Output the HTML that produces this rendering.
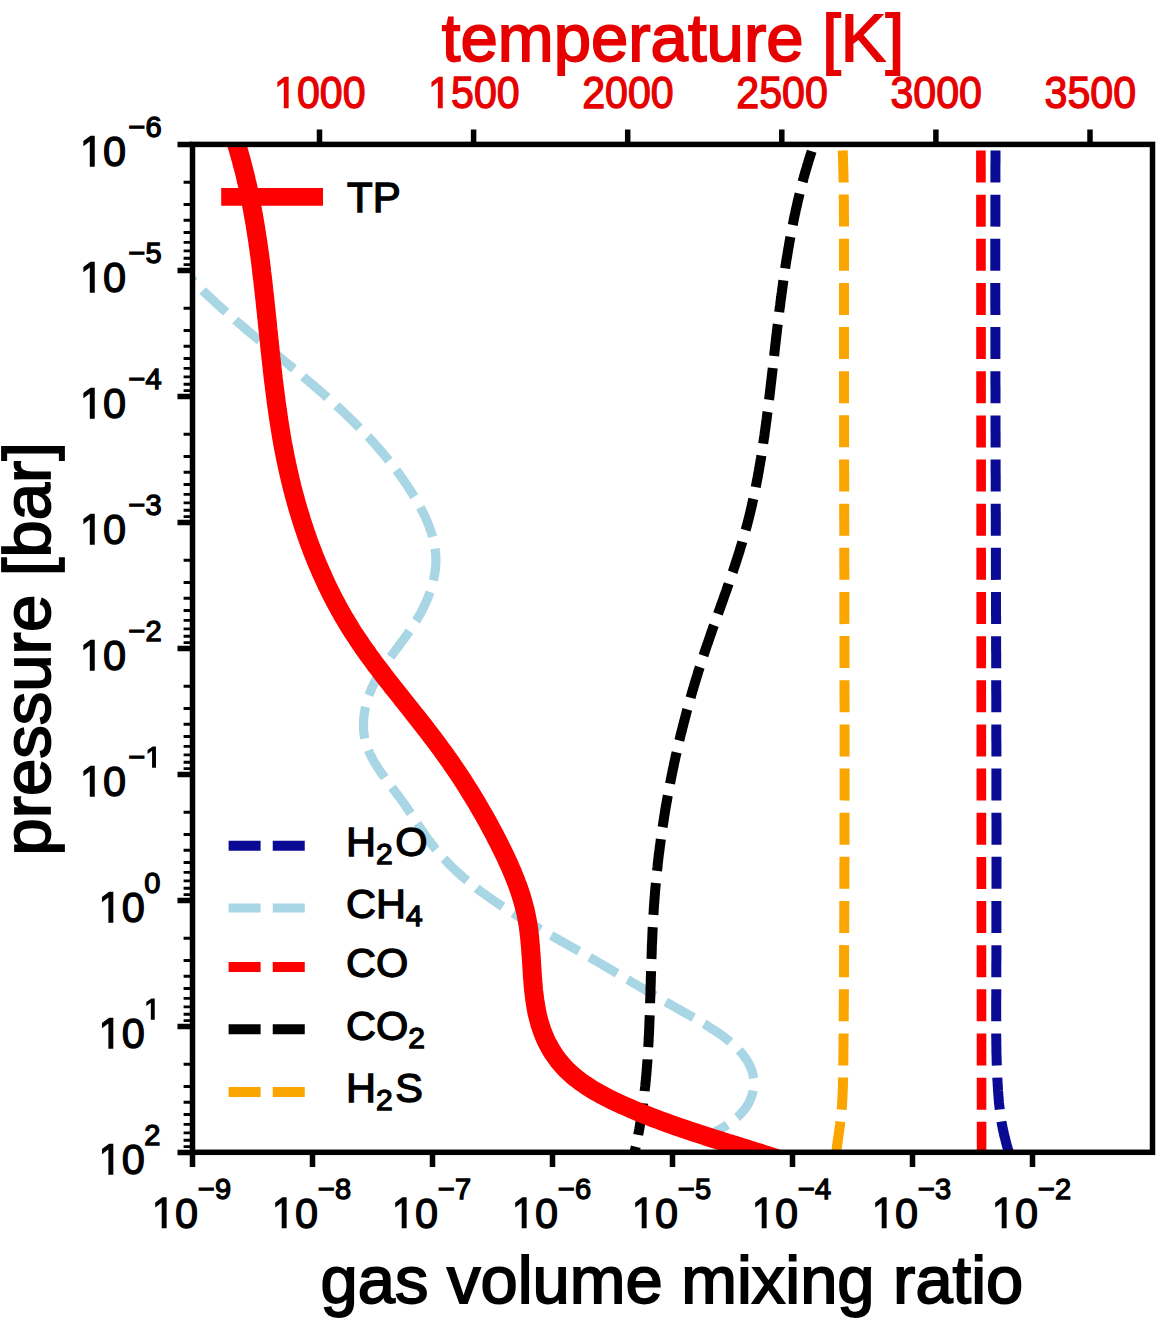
<!DOCTYPE html>
<html><head><meta charset="utf-8"><style>
html,body{margin:0;padding:0;background:#fff;}
svg{display:block;}
text{font-family:"Liberation Sans",sans-serif;}
</style></head><body>
<svg width="1165" height="1321" viewBox="0 0 1165 1321">
<defs><clipPath id="c"><rect x="192.5" y="144.4" width="960.0" height="1007.9"/></clipPath></defs>
<rect width="1165" height="1321" fill="#fff"/>

<g clip-path="url(#c)" fill="none" stroke-linecap="butt" stroke-linejoin="round">
<path d="M186.4,274.0 L188.4,276.1 L190.4,278.2 L192.5,280.3 L194.6,282.5 L196.6,284.5 L198.7,286.6 L200.9,288.7 L203.0,290.8 L205.1,292.8 L207.3,294.9 L209.4,296.9 L211.6,298.9 L213.8,300.9 L216.0,303.0 L218.1,305.0 L220.4,307.0 L222.6,308.9 L224.8,310.9 L227.0,312.9 L229.3,314.9 L231.5,316.8 L233.8,318.8 L236.0,320.8 L238.3,322.7 L240.6,324.6 L242.9,326.6 L245.2,328.5 L247.4,330.5 L249.7,332.4 L252.0,334.3 L254.3,336.2 L256.7,338.2 L259.0,340.1 L261.3,342.0 L263.6,343.9 L265.9,345.8 L268.2,347.7 L270.6,349.7 L272.9,351.6 L275.2,353.5 L277.5,355.4 L279.9,357.3 L282.2,359.2 L284.5,361.1 L286.8,363.1 L289.2,365.0 L291.5,366.9 L293.8,368.8 L296.1,370.7 L298.4,372.7 L300.7,374.6 L303.0,376.5 L305.3,378.5 L307.6,380.4 L309.9,382.4 L312.2,384.3 L314.5,386.3 L316.8,388.2 L319.1,390.2 L321.3,392.2 L323.6,394.1 L325.8,396.1 L328.1,398.1 L330.3,400.1 L332.6,402.1 L334.8,404.1 L337.0,406.1 L339.2,408.2 L341.4,410.2 L343.6,412.2 L345.7,414.3 L347.9,416.4 L350.1,418.4 L352.2,420.5 L354.3,422.6 L356.4,424.7 L358.5,426.8 L360.6,428.9 L362.7,431.1 L364.8,433.2 L366.8,435.4 L368.9,437.5 L370.9,439.7 L372.9,441.9 L374.9,444.1 L376.9,446.4 L378.8,448.6 L380.8,450.8 L382.7,453.1 L384.6,455.4 L386.5,457.7 L388.4,460.0 L390.3,462.3 L392.1,464.6 L393.9,467.0 L395.7,469.4 L397.5,471.8 L399.3,474.2 L401.0,476.6 L402.7,479.0 L404.4,481.5 L406.1,484.0 L407.8,486.4 L409.4,489.0 L411.0,491.5 L412.6,494.0 L414.2,496.6 L415.8,499.2 L417.3,501.8 L418.8,504.4 L420.2,507.1 L421.6,509.7 L423.0,512.4 L424.3,515.1 L425.6,517.8 L426.8,520.6 L427.9,523.3 L429.0,526.1 L430.0,528.8 L431.0,531.6 L431.9,534.4 L432.7,537.3 L433.4,540.1 L434.0,542.9 L434.6,545.8 L435.0,548.7 L435.4,551.6 L435.7,554.4 L435.8,557.4 L435.9,560.3 L435.8,563.2 L435.7,566.1 L435.4,569.1 L435.0,572.0 L434.5,575.0 L434.0,577.9 L433.3,580.9 L432.6,583.8 L431.7,586.8 L430.8,589.7 L429.8,592.6 L428.8,595.5 L427.6,598.4 L426.4,601.2 L425.1,604.1 L423.8,606.9 L422.4,609.7 L421.0,612.4 L419.5,615.1 L417.9,617.8 L416.4,620.5 L414.7,623.1 L413.1,625.7 L411.4,628.2 L409.7,630.7 L408.0,633.2 L406.2,635.7 L404.4,638.2 L402.7,640.6 L400.9,643.0 L399.1,645.5 L397.3,647.9 L395.5,650.3 L393.7,652.7 L392.0,655.1 L390.2,657.5 L388.5,659.9 L386.8,662.3 L385.1,664.8 L383.5,667.2 L381.8,669.7 L380.3,672.2 L378.8,674.7 L377.3,677.3 L375.9,679.8 L374.5,682.5 L373.2,685.1 L371.9,687.8 L370.8,690.5 L369.7,693.3 L368.6,696.1 L367.7,699.0 L366.8,701.8 L366.1,704.8 L365.4,707.7 L364.8,710.7 L364.3,713.6 L363.9,716.6 L363.7,719.6 L363.5,722.6 L363.5,725.6 L363.5,728.5 L363.7,731.4 L364.1,734.3 L364.5,737.2 L365.1,740.0 L365.9,742.8 L366.7,745.6 L367.7,748.3 L368.8,751.0 L369.9,753.7 L371.2,756.3 L372.6,758.9 L374.0,761.5 L375.5,764.1 L377.1,766.6 L378.8,769.1 L380.4,771.7 L382.2,774.2 L384.0,776.6 L385.8,779.1 L387.6,781.6 L389.5,784.1 L391.3,786.5 L393.2,789.0 L395.1,791.5 L396.9,793.9 L398.8,796.4 L400.6,798.9 L402.4,801.4 L404.2,803.9 L405.9,806.4 L407.6,808.9 L409.3,811.4 L411.0,813.9 L412.7,816.4 L414.3,818.9 L416.0,821.4 L417.6,823.9 L419.3,826.4 L420.9,828.8 L422.6,831.3 L424.2,833.7 L425.9,836.1 L427.6,838.5 L429.4,840.9 L431.1,843.3 L432.9,845.6 L434.7,847.9 L436.6,850.2 L438.4,852.5 L440.3,854.7 L442.3,856.9 L444.3,859.0 L446.3,861.2 L448.3,863.3 L450.4,865.4 L452.5,867.5 L454.6,869.5 L456.8,871.5 L459.0,873.5 L461.2,875.5 L463.4,877.5 L465.7,879.4 L468.0,881.3 L470.3,883.2 L472.6,885.1 L474.9,886.9 L477.3,888.8 L479.7,890.6 L482.1,892.4 L484.5,894.1 L487.0,895.9 L489.4,897.6 L491.9,899.4 L494.4,901.1 L496.9,902.8 L499.4,904.4 L501.9,906.1 L504.5,907.8 L507.0,909.4 L509.6,911.0 L512.1,912.6 L514.7,914.2 L517.3,915.8 L519.9,917.4 L522.5,918.9 L525.1,920.5 L527.7,922.0 L530.3,923.6 L532.9,925.1 L535.6,926.6 L538.2,928.1 L540.8,929.6 L543.4,931.1 L546.0,932.6 L548.7,934.1 L551.3,935.5 L553.9,937.0 L556.5,938.5 L559.1,939.9 L561.7,941.4 L564.3,942.8 L566.9,944.3 L569.5,945.7 L572.0,947.2 L574.6,948.6 L577.1,950.1 L579.7,951.5 L582.2,953.0 L584.7,954.4 L587.2,955.8 L589.7,957.3 L592.2,958.7 L594.7,960.2 L597.2,961.6 L599.7,963.1 L602.1,964.5 L604.6,966.0 L607.1,967.4 L609.5,968.9 L612.0,970.3 L614.5,971.8 L617.0,973.3 L619.4,974.7 L621.9,976.2 L624.4,977.7 L626.9,979.2 L629.4,980.6 L631.9,982.1 L634.4,983.6 L637.0,985.1 L639.5,986.6 L642.1,988.1 L644.7,989.6 L647.2,991.2 L649.9,992.7 L652.5,994.2 L655.1,995.7 L657.8,997.3 L660.5,998.8 L663.2,1000.4 L665.9,1001.9 L668.6,1003.5 L671.4,1005.1 L674.2,1006.7 L677.0,1008.3 L679.9,1009.9 L682.7,1011.5 L685.6,1013.1 L688.5,1014.7 L691.4,1016.4 L694.3,1018.0 L697.2,1019.7 L700.1,1021.4 L702.9,1023.1 L705.7,1024.8 L708.6,1026.5 L711.3,1028.3 L714.1,1030.1 L716.7,1031.9 L719.4,1033.7 L722.0,1035.5 L724.5,1037.4 L726.9,1039.3 L729.3,1041.2 L731.6,1043.2 L733.8,1045.1 L735.9,1047.1 L738.0,1049.2 L739.9,1051.2 L741.8,1053.3 L743.5,1055.5 L745.1,1057.6 L746.6,1059.8 L747.9,1062.1 L749.2,1064.3 L750.3,1066.6 L751.2,1069.0 L752.0,1071.4 L752.7,1073.8 L753.2,1076.3 L753.5,1078.7 L753.7,1081.2 L753.8,1083.7 L753.7,1086.2 L753.4,1088.7 L753.0,1091.3 L752.4,1093.8 L751.6,1096.2 L750.7,1098.7 L749.6,1101.2 L748.4,1103.6 L747.0,1106.0 L745.4,1108.3 L743.6,1110.6 L741.7,1112.8 L739.6,1115.0 L737.3,1117.2 L734.9,1119.2 L732.3,1121.2 L729.6,1123.2 L726.8,1125.1 L724.0,1126.9 L721.0,1128.7 L717.9,1130.4 L714.9,1132.0 L711.7,1133.6 L708.6,1135.1" stroke="#a9d6e5" stroke-width="9.2" stroke-dasharray="32 12.15" stroke-dashoffset="21.016481943131858"/>
<path d="M995.5,140.0 L995.5,142.6 L995.5,145.1 L995.5,147.7 L995.5,150.2 L995.5,152.8 L995.5,155.3 L995.5,157.9 L995.5,160.4 L995.5,163.0 L995.4,165.6 L995.4,168.1 L995.4,170.7 L995.4,173.2 L995.4,175.8 L995.4,178.3 L995.4,180.9 L995.4,183.4 L995.4,186.0 L995.4,188.6 L995.4,191.1 L995.4,193.7 L995.4,196.2 L995.4,198.8 L995.4,201.3 L995.4,203.9 L995.4,206.4 L995.4,209.0 L995.4,211.6 L995.4,214.1 L995.4,216.7 L995.4,219.2 L995.4,221.8 L995.4,224.3 L995.3,226.9 L995.3,229.4 L995.3,232.0 L995.3,234.6 L995.3,237.1 L995.3,239.7 L995.3,242.2 L995.3,244.8 L995.3,247.3 L995.3,249.9 L995.3,252.4 L995.3,255.0 L995.3,257.5 L995.3,260.1 L995.3,262.7 L995.3,265.2 L995.3,267.8 L995.3,270.3 L995.3,272.9 L995.3,275.4 L995.3,278.0 L995.3,280.5 L995.3,283.1 L995.3,285.7 L995.3,288.2 L995.3,290.8 L995.3,293.3 L995.3,295.9 L995.3,298.4 L995.3,301.0 L995.3,303.5 L995.3,306.1 L995.3,308.6 L995.4,311.2 L995.4,313.8 L995.4,316.3 L995.4,318.9 L995.4,321.4 L995.4,324.0 L995.4,326.5 L995.4,329.1 L995.4,331.6 L995.4,334.2 L995.4,336.7 L995.4,339.3 L995.4,341.9 L995.4,344.4 L995.4,347.0 L995.4,349.5 L995.4,352.1 L995.4,354.6 L995.4,357.2 L995.4,359.7 L995.4,362.3 L995.4,364.8 L995.4,367.4 L995.4,370.0 L995.4,372.5 L995.4,375.1 L995.4,377.6 L995.4,380.2 L995.4,382.7 L995.4,385.3 L995.5,387.8 L995.5,390.4 L995.5,392.9 L995.5,395.5 L995.5,398.1 L995.5,400.6 L995.5,403.2 L995.5,405.7 L995.5,408.3 L995.5,410.8 L995.5,413.4 L995.5,415.9 L995.5,418.5 L995.5,421.0 L995.5,423.6 L995.5,426.2 L995.5,428.7 L995.5,431.3 L995.6,433.8 L995.6,436.4 L995.6,438.9 L995.6,441.5 L995.6,444.0 L995.6,446.6 L995.6,449.1 L995.6,451.7 L995.6,454.2 L995.6,456.8 L995.6,459.4 L995.6,461.9 L995.6,464.5 L995.6,467.0 L995.6,469.6 L995.6,472.1 L995.7,474.7 L995.7,477.2 L995.7,479.8 L995.7,482.3 L995.7,484.9 L995.7,487.5 L995.7,490.0 L995.7,492.6 L995.7,495.1 L995.7,497.7 L995.7,500.2 L995.7,502.8 L995.7,505.3 L995.7,507.9 L995.7,510.4 L995.8,513.0 L995.8,515.6 L995.8,518.1 L995.8,520.7 L995.8,523.2 L995.8,525.8 L995.8,528.3 L995.8,530.9 L995.8,533.4 L995.8,536.0 L995.8,538.5 L995.8,541.1 L995.8,543.6 L995.9,546.2 L995.9,548.8 L995.9,551.3 L995.9,553.9 L995.9,556.4 L995.9,559.0 L995.9,561.5 L995.9,564.1 L995.9,566.6 L995.9,569.2 L995.9,571.7 L995.9,574.3 L995.9,576.9 L995.9,579.4 L996.0,582.0 L996.0,584.5 L996.0,587.1 L996.0,589.6 L996.0,592.2 L996.0,594.7 L996.0,597.3 L996.0,599.8 L996.0,602.4 L996.0,604.9 L996.0,607.5 L996.0,610.1 L996.0,612.6 L996.0,615.2 L996.1,617.7 L996.1,620.3 L996.1,622.8 L996.1,625.4 L996.1,627.9 L996.1,630.5 L996.1,633.0 L996.1,635.6 L996.1,638.2 L996.1,640.7 L996.1,643.3 L996.1,645.8 L996.1,648.4 L996.1,650.9 L996.2,653.5 L996.2,656.0 L996.2,658.6 L996.2,661.1 L996.2,663.7 L996.2,666.2 L996.2,668.8 L996.2,671.4 L996.2,673.9 L996.2,676.5 L996.2,679.0 L996.2,681.6 L996.2,684.1 L996.2,686.7 L996.2,689.2 L996.2,691.8 L996.3,694.3 L996.3,696.9 L996.3,699.5 L996.3,702.0 L996.3,704.6 L996.3,707.1 L996.3,709.7 L996.3,712.2 L996.3,714.8 L996.3,717.3 L996.3,719.9 L996.3,722.4 L996.3,725.0 L996.3,727.6 L996.3,730.1 L996.3,732.7 L996.3,735.2 L996.3,737.8 L996.3,740.3 L996.4,742.9 L996.4,745.4 L996.4,748.0 L996.4,750.5 L996.4,753.1 L996.4,755.7 L996.4,758.2 L996.4,760.8 L996.4,763.3 L996.4,765.9 L996.4,768.4 L996.4,771.0 L996.4,773.5 L996.4,776.1 L996.4,778.6 L996.4,781.2 L996.4,783.8 L996.4,786.3 L996.4,788.9 L996.4,791.4 L996.4,794.0 L996.4,796.5 L996.4,799.1 L996.4,801.6 L996.4,804.2 L996.4,806.8 L996.4,809.3 L996.4,811.9 L996.4,814.4 L996.4,817.0 L996.5,819.5 L996.5,822.1 L996.5,824.6 L996.5,827.2 L996.5,829.7 L996.5,832.3 L996.5,834.9 L996.5,837.4 L996.5,840.0 L996.5,842.5 L996.5,845.1 L996.5,847.6 L996.5,850.2 L996.5,852.7 L996.5,855.3 L996.5,857.9 L996.5,860.4 L996.5,863.0 L996.5,865.5 L996.5,868.1 L996.5,870.6 L996.5,873.2 L996.5,875.7 L996.5,878.3 L996.5,880.9 L996.5,883.4 L996.5,886.0 L996.5,888.5 L996.5,891.1 L996.5,893.6 L996.5,896.2 L996.4,898.7 L996.4,901.3 L996.4,903.9 L996.4,906.4 L996.4,909.0 L996.4,911.5 L996.4,914.1 L996.4,916.6 L996.4,919.2 L996.4,921.7 L996.4,924.3 L996.4,926.9 L996.4,929.4 L996.4,932.0 L996.4,934.5 L996.4,937.1 L996.4,939.6 L996.4,942.2 L996.4,944.7 L996.4,947.3 L996.4,949.9 L996.4,952.4 L996.4,955.0 L996.4,957.5 L996.4,960.1 L996.3,962.6 L996.3,965.2 L996.3,967.8 L996.3,970.3 L996.3,972.9 L996.3,975.4 L996.3,978.0 L996.3,980.5 L996.3,983.1 L996.3,985.6 L996.3,988.2 L996.3,990.8 L996.3,993.3 L996.3,995.9 L996.2,998.4 L996.2,1001.0 L996.2,1003.5 L996.2,1006.1 L996.2,1008.7 L996.2,1011.2 L996.2,1013.8 L996.2,1016.3 L996.2,1018.9 L996.2,1021.4 L996.2,1024.0 L996.2,1026.5 L996.2,1029.1 L996.2,1031.7 L996.2,1034.2 L996.2,1036.8 L996.3,1039.3 L996.3,1041.9 L996.3,1044.4 L996.4,1047.0 L996.4,1049.5 L996.4,1052.1 L996.5,1054.6 L996.6,1057.2 L996.6,1059.7 L996.7,1062.3 L996.8,1064.8 L996.9,1067.4 L997.0,1069.9 L997.1,1072.5 L997.2,1075.0 L997.3,1077.6 L997.4,1080.1 L997.6,1082.7 L997.7,1085.2 L997.9,1087.8 L998.0,1090.3 L998.2,1092.9 L998.4,1095.4 L998.6,1097.9 L998.8,1100.5 L999.0,1103.0 L999.3,1105.6 L999.6,1108.1 L999.9,1110.6 L1000.2,1113.2 L1000.5,1115.7 L1000.9,1118.2 L1001.3,1120.7 L1001.7,1123.2 L1002.2,1125.7 L1002.7,1128.2 L1003.2,1130.7 L1003.8,1133.2 L1004.3,1135.7 L1005.0,1138.2 L1005.6,1140.7 L1006.2,1143.2 L1006.9,1145.6 L1007.6,1148.1 L1008.3,1150.6 L1009.0,1153.0 L1009.7,1155.5 L1010.4,1158.0" stroke="#0a0a94" stroke-width="10" stroke-dasharray="32 12.15" stroke-dashoffset="33.65"/>
<path d="M980.9,140.0 L981.6,1160.0" stroke="#ff0000" stroke-width="9.6" stroke-dasharray="32 12.15" stroke-dashoffset="33.65"/>
<path d="M814.5,142.8 L813.6,145.3 L812.8,147.8 L812.0,150.2 L811.2,152.7 L810.4,155.2 L809.6,157.7 L808.8,160.2 L808.1,162.7 L807.3,165.2 L806.6,167.7 L805.8,170.2 L805.1,172.7 L804.4,175.2 L803.7,177.7 L803.1,180.2 L802.4,182.7 L801.7,185.2 L801.1,187.7 L800.5,190.3 L799.8,192.8 L799.2,195.3 L798.6,197.8 L798.0,200.4 L797.4,202.9 L796.9,205.4 L796.3,207.9 L795.7,210.5 L795.2,213.0 L794.6,215.6 L794.1,218.1 L793.6,220.6 L793.1,223.2 L792.6,225.7 L792.1,228.3 L791.6,230.8 L791.1,233.4 L790.6,235.9 L790.1,238.5 L789.7,241.0 L789.2,243.6 L788.8,246.2 L788.3,248.7 L787.9,251.3 L787.5,253.8 L787.1,256.4 L786.6,259.0 L786.2,261.5 L785.8,264.1 L785.4,266.7 L785.1,269.3 L784.7,271.8 L784.3,274.4 L783.9,277.0 L783.5,279.6 L783.2,282.1 L782.8,284.7 L782.5,287.3 L782.1,289.9 L781.8,292.4 L781.4,295.0 L781.1,297.6 L780.7,300.2 L780.4,302.8 L780.1,305.4 L779.7,308.0 L779.4,310.5 L779.1,313.1 L778.8,315.7 L778.5,318.3 L778.2,320.9 L777.9,323.5 L777.5,326.1 L777.2,328.7 L776.9,331.3 L776.6,333.9 L776.3,336.4 L776.0,339.0 L775.7,341.6 L775.4,344.2 L775.1,346.8 L774.8,349.4 L774.5,352.0 L774.3,354.6 L774.0,357.2 L773.7,359.8 L773.4,362.4 L773.1,365.0 L772.8,367.6 L772.5,370.2 L772.2,372.8 L771.9,375.4 L771.6,378.0 L771.3,380.5 L771.0,383.1 L770.7,385.7 L770.4,388.3 L770.1,390.9 L769.8,393.5 L769.5,396.1 L769.2,398.7 L768.8,401.3 L768.5,403.9 L768.2,406.5 L767.9,409.1 L767.6,411.7 L767.2,414.2 L766.9,416.8 L766.6,419.4 L766.2,422.0 L765.9,424.6 L765.5,427.2 L765.2,429.8 L764.8,432.3 L764.5,434.9 L764.1,437.5 L763.7,440.1 L763.3,442.7 L763.0,445.2 L762.6,447.8 L762.2,450.4 L761.8,453.0 L761.4,455.5 L761.0,458.1 L760.5,460.7 L760.1,463.2 L759.7,465.8 L759.2,468.4 L758.8,470.9 L758.3,473.5 L757.9,476.0 L757.4,478.6 L756.9,481.1 L756.4,483.7 L755.9,486.2 L755.4,488.8 L754.9,491.3 L754.4,493.9 L753.8,496.4 L753.3,498.9 L752.7,501.5 L752.2,504.0 L751.6,506.5 L751.0,509.1 L750.4,511.6 L749.8,514.1 L749.2,516.6 L748.6,519.1 L747.9,521.6 L747.3,524.2 L746.6,526.7 L745.9,529.2 L745.2,531.7 L744.5,534.2 L743.8,536.6 L743.1,539.1 L742.4,541.6 L741.7,544.1 L740.9,546.6 L740.1,549.1 L739.4,551.5 L738.6,554.0 L737.8,556.5 L737.0,559.0 L736.2,561.4 L735.4,563.9 L734.6,566.3 L733.8,568.8 L733.0,571.3 L732.1,573.7 L731.3,576.2 L730.4,578.6 L729.6,581.1 L728.7,583.6 L727.9,586.0 L727.0,588.5 L726.2,590.9 L725.3,593.4 L724.4,595.8 L723.6,598.3 L722.7,600.7 L721.8,603.2 L721.0,605.6 L720.1,608.0 L719.2,610.5 L718.3,612.9 L717.5,615.4 L716.6,617.8 L715.7,620.3 L714.8,622.7 L714.0,625.2 L713.1,627.6 L712.2,630.1 L711.4,632.5 L710.5,635.0 L709.7,637.4 L708.8,639.9 L708.0,642.4 L707.1,644.8 L706.3,647.3 L705.4,649.7 L704.6,652.2 L703.8,654.7 L703.0,657.1 L702.2,659.6 L701.4,662.1 L700.6,664.5 L699.8,667.0 L699.0,669.5 L698.2,671.9 L697.5,674.4 L696.7,676.9 L695.9,679.4 L695.2,681.9 L694.4,684.3 L693.7,686.8 L693.0,689.3 L692.2,691.8 L691.5,694.3 L690.8,696.8 L690.1,699.3 L689.4,701.8 L688.7,704.3 L688.0,706.8 L687.3,709.3 L686.6,711.8 L686.0,714.3 L685.3,716.8 L684.7,719.3 L684.0,721.8 L683.4,724.3 L682.7,726.8 L682.1,729.3 L681.5,731.8 L680.8,734.3 L680.2,736.9 L679.6,739.4 L679.0,741.9 L678.4,744.4 L677.8,746.9 L677.3,749.5 L676.7,752.0 L676.1,754.5 L675.5,757.0 L675.0,759.6 L674.4,762.1 L673.9,764.6 L673.4,767.2 L672.8,769.7 L672.3,772.2 L671.8,774.8 L671.3,777.3 L670.8,779.9 L670.3,782.4 L669.8,784.9 L669.3,787.5 L668.8,790.0 L668.3,792.6 L667.9,795.1 L667.4,797.7 L667.0,800.2 L666.5,802.8 L666.1,805.3 L665.6,807.9 L665.2,810.4 L664.8,813.0 L664.4,815.5 L664.0,818.1 L663.6,820.7 L663.2,823.2 L662.8,825.8 L662.4,828.4 L662.0,830.9 L661.7,833.5 L661.3,836.1 L660.9,838.6 L660.6,841.2 L660.3,843.8 L659.9,846.3 L659.6,848.9 L659.3,851.5 L658.9,854.1 L658.6,856.6 L658.3,859.2 L658.0,861.8 L657.7,864.4 L657.5,867.0 L657.2,869.5 L656.9,872.1 L656.7,874.7 L656.4,877.3 L656.1,879.9 L655.9,882.5 L655.7,885.1 L655.4,887.6 L655.2,890.2 L655.0,892.8 L654.8,895.4 L654.6,898.0 L654.4,900.6 L654.2,903.2 L654.0,905.8 L653.8,908.4 L653.7,911.0 L653.5,913.6 L653.3,916.2 L653.2,918.8 L653.0,921.4 L652.9,924.0 L652.8,926.6 L652.6,929.2 L652.5,931.8 L652.4,934.4 L652.3,937.0 L652.2,939.6 L652.1,942.2 L651.9,944.8 L651.8,947.5 L651.8,950.1 L651.7,952.7 L651.6,955.3 L651.5,957.9 L651.4,960.5 L651.3,963.1 L651.2,965.7 L651.1,968.3 L651.1,970.9 L651.0,973.6 L650.9,976.2 L650.8,978.8 L650.8,981.4 L650.7,984.0 L650.6,986.6 L650.5,989.2 L650.5,991.8 L650.4,994.4 L650.3,997.1 L650.2,999.7 L650.1,1002.3 L650.1,1004.9 L650.0,1007.5 L649.9,1010.1 L649.8,1012.7 L649.7,1015.3 L649.6,1017.9 L649.5,1020.5 L649.4,1023.1 L649.3,1025.8 L649.2,1028.4 L649.1,1031.0 L649.0,1033.6 L648.8,1036.2 L648.7,1038.8 L648.6,1041.4 L648.4,1044.0 L648.3,1046.6 L648.1,1049.2 L648.0,1051.8 L647.8,1054.4 L647.6,1057.0 L647.5,1059.6 L647.3,1062.2 L647.1,1064.8 L646.9,1067.4 L646.7,1069.9 L646.5,1072.5 L646.3,1075.1 L646.0,1077.7 L645.8,1080.3 L645.5,1082.9 L645.3,1085.5 L645.0,1088.0 L644.7,1090.6 L644.5,1093.2 L644.2,1095.8 L643.9,1098.4 L643.5,1100.9 L643.2,1103.5 L642.9,1106.1 L642.5,1108.6 L642.2,1111.2 L641.8,1113.8 L641.4,1116.3 L641.0,1118.9 L640.6,1121.5 L640.2,1124.0 L639.7,1126.6 L639.3,1129.1 L638.8,1131.7 L638.3,1134.2 L637.8,1136.8 L637.3,1139.3 L636.8,1141.9 L636.3,1144.4 L635.7,1146.9 L635.2,1149.5 L634.6,1152.0 L634.0,1154.6 L633.4,1157.1 L632.8,1159.6" stroke="#000000" stroke-width="10" stroke-dasharray="32 12.15" stroke-dashoffset="35.28914998543163"/>
<path d="M842.2,140.0 L842.4,142.6 L842.5,145.1 L842.6,147.7 L842.7,150.2 L842.8,152.8 L842.9,155.3 L843.0,157.9 L843.0,160.5 L843.1,163.0 L843.2,165.6 L843.3,168.1 L843.3,170.7 L843.4,173.2 L843.5,175.8 L843.5,178.4 L843.6,180.9 L843.6,183.5 L843.7,186.0 L843.7,188.6 L843.7,191.1 L843.8,193.7 L843.8,196.2 L843.8,198.8 L843.9,201.4 L843.9,203.9 L843.9,206.5 L843.9,209.0 L843.9,211.6 L843.9,214.1 L844.0,216.7 L844.0,219.3 L844.0,221.8 L844.0,224.4 L844.0,226.9 L844.0,229.5 L844.0,232.0 L844.0,234.6 L844.0,237.2 L844.0,239.7 L844.0,242.3 L844.0,244.8 L844.0,247.4 L844.0,249.9 L844.0,252.5 L844.0,255.1 L844.0,257.6 L844.0,260.2 L844.0,262.7 L844.0,265.3 L844.0,267.8 L844.0,270.4 L844.0,273.0 L844.0,275.5 L844.0,278.1 L844.0,280.6 L844.0,283.2 L844.0,285.7 L844.0,288.3 L844.0,290.9 L844.0,293.4 L844.0,296.0 L844.0,298.5 L844.0,301.1 L844.0,303.6 L844.0,306.2 L844.0,308.8 L844.0,311.3 L844.0,313.9 L844.0,316.4 L844.0,319.0 L844.0,321.6 L844.0,324.1 L844.0,326.7 L844.0,329.2 L844.0,331.8 L844.0,334.3 L844.0,336.9 L844.0,339.5 L844.0,342.0 L844.0,344.6 L844.0,347.1 L844.0,349.7 L844.0,352.2 L844.0,354.8 L844.0,357.4 L844.0,359.9 L844.0,362.5 L844.0,365.0 L844.0,367.6 L844.0,370.1 L844.0,372.7 L844.0,375.3 L844.0,377.8 L844.0,380.4 L844.0,382.9 L844.0,385.5 L844.0,388.0 L844.0,390.6 L844.0,393.2 L844.0,395.7 L844.0,398.3 L844.0,400.8 L844.0,403.4 L844.0,405.9 L844.0,408.5 L844.1,411.1 L844.1,413.6 L844.1,416.2 L844.1,418.7 L844.1,421.3 L844.1,423.8 L844.1,426.4 L844.1,429.0 L844.1,431.5 L844.1,434.1 L844.1,436.6 L844.1,439.2 L844.1,441.8 L844.1,444.3 L844.1,446.9 L844.1,449.4 L844.1,452.0 L844.1,454.5 L844.1,457.1 L844.1,459.7 L844.1,462.2 L844.1,464.8 L844.1,467.3 L844.2,469.9 L844.2,472.4 L844.2,475.0 L844.2,477.6 L844.2,480.1 L844.2,482.7 L844.2,485.2 L844.2,487.8 L844.2,490.3 L844.2,492.9 L844.2,495.5 L844.2,498.0 L844.2,500.6 L844.2,503.1 L844.2,505.7 L844.2,508.2 L844.2,510.8 L844.2,513.4 L844.2,515.9 L844.2,518.5 L844.3,521.0 L844.3,523.6 L844.3,526.1 L844.3,528.7 L844.3,531.3 L844.3,533.8 L844.3,536.4 L844.3,538.9 L844.3,541.5 L844.3,544.1 L844.3,546.6 L844.3,549.2 L844.3,551.7 L844.3,554.3 L844.3,556.8 L844.3,559.4 L844.3,562.0 L844.3,564.5 L844.3,567.1 L844.3,569.6 L844.4,572.2 L844.4,574.7 L844.4,577.3 L844.4,579.9 L844.4,582.4 L844.4,585.0 L844.4,587.5 L844.4,590.1 L844.4,592.6 L844.4,595.2 L844.4,597.8 L844.4,600.3 L844.4,602.9 L844.4,605.4 L844.4,608.0 L844.4,610.5 L844.4,613.1 L844.4,615.7 L844.4,618.2 L844.4,620.8 L844.4,623.3 L844.5,625.9 L844.5,628.4 L844.5,631.0 L844.5,633.6 L844.5,636.1 L844.5,638.7 L844.5,641.2 L844.5,643.8 L844.5,646.4 L844.5,648.9 L844.5,651.5 L844.5,654.0 L844.5,656.6 L844.5,659.1 L844.5,661.7 L844.5,664.3 L844.5,666.8 L844.5,669.4 L844.5,671.9 L844.5,674.5 L844.5,677.0 L844.5,679.6 L844.5,682.2 L844.5,684.7 L844.5,687.3 L844.5,689.8 L844.5,692.4 L844.5,694.9 L844.5,697.5 L844.5,700.1 L844.6,702.6 L844.6,705.2 L844.6,707.7 L844.6,710.3 L844.6,712.8 L844.6,715.4 L844.6,718.0 L844.6,720.5 L844.6,723.1 L844.6,725.6 L844.6,728.2 L844.6,730.8 L844.6,733.3 L844.6,735.9 L844.6,738.4 L844.6,741.0 L844.6,743.5 L844.6,746.1 L844.6,748.7 L844.6,751.2 L844.6,753.8 L844.6,756.3 L844.6,758.9 L844.6,761.4 L844.6,764.0 L844.6,766.6 L844.6,769.1 L844.6,771.7 L844.6,774.2 L844.6,776.8 L844.6,779.3 L844.6,781.9 L844.6,784.5 L844.6,787.0 L844.6,789.6 L844.6,792.1 L844.6,794.7 L844.6,797.2 L844.6,799.8 L844.5,802.4 L844.5,804.9 L844.5,807.5 L844.5,810.0 L844.5,812.6 L844.5,815.1 L844.5,817.7 L844.5,820.3 L844.5,822.8 L844.5,825.4 L844.5,827.9 L844.5,830.5 L844.5,833.0 L844.5,835.6 L844.5,838.2 L844.5,840.7 L844.5,843.3 L844.5,845.8 L844.5,848.4 L844.5,850.9 L844.5,853.5 L844.5,856.1 L844.5,858.6 L844.5,861.2 L844.4,863.7 L844.4,866.3 L844.4,868.8 L844.4,871.4 L844.4,874.0 L844.4,876.5 L844.4,879.1 L844.4,881.6 L844.4,884.2 L844.4,886.8 L844.4,889.3 L844.4,891.9 L844.4,894.4 L844.3,897.0 L844.3,899.5 L844.3,902.1 L844.3,904.7 L844.3,907.2 L844.3,909.8 L844.3,912.3 L844.3,914.9 L844.3,917.4 L844.3,920.0 L844.2,922.6 L844.2,925.1 L844.2,927.7 L844.2,930.2 L844.2,932.8 L844.2,935.3 L844.2,937.9 L844.2,940.5 L844.2,943.0 L844.1,945.6 L844.1,948.1 L844.1,950.7 L844.1,953.2 L844.1,955.8 L844.1,958.4 L844.1,960.9 L844.0,963.5 L844.0,966.0 L844.0,968.6 L844.0,971.1 L844.0,973.7 L844.0,976.3 L844.0,978.8 L843.9,981.4 L843.9,983.9 L843.9,986.5 L843.9,989.0 L843.9,991.6 L843.9,994.2 L843.8,996.7 L843.8,999.3 L843.8,1001.8 L843.8,1004.4 L843.8,1006.9 L843.8,1009.5 L843.7,1012.1 L843.7,1014.6 L843.7,1017.2 L843.7,1019.7 L843.7,1022.3 L843.6,1024.8 L843.6,1027.4 L843.6,1029.9 L843.6,1032.5 L843.6,1035.1 L843.5,1037.6 L843.5,1040.2 L843.5,1042.7 L843.5,1045.3 L843.4,1047.8 L843.4,1050.4 L843.4,1053.0 L843.4,1055.5 L843.4,1058.1 L843.3,1060.6 L843.3,1063.2 L843.3,1065.7 L843.2,1068.3 L843.2,1070.9 L843.2,1073.4 L843.1,1076.0 L843.1,1078.5 L843.0,1081.1 L843.0,1083.6 L842.9,1086.2 L842.8,1088.7 L842.7,1091.3 L842.6,1093.8 L842.5,1096.4 L842.4,1099.0 L842.2,1101.5 L842.1,1104.1 L841.9,1106.6 L841.7,1109.1 L841.5,1111.7 L841.2,1114.2 L841.0,1116.8 L840.7,1119.3 L840.4,1121.9 L840.1,1124.4 L839.7,1127.0 L839.4,1129.5 L839.0,1132.0 L838.6,1134.6 L838.3,1137.1 L837.9,1139.6 L837.6,1142.2 L837.2,1144.7 L836.9,1147.3 L836.6,1149.8 L836.3,1152.3 L836.1,1154.9 L835.9,1157.4 L835.7,1160.0" stroke="#fba500" stroke-width="10" stroke-dasharray="32 12.15" stroke-dashoffset="33.65"/>
<path d="M233.7,135.3 L234.7,138.3 L235.7,141.3 L236.6,144.4 L237.6,147.4 L238.5,150.5 L239.4,153.6 L240.2,156.6 L241.1,159.7 L241.9,162.8 L242.7,165.8 L243.5,168.9 L244.3,172.0 L245.1,175.1 L245.8,178.2 L246.5,181.3 L247.3,184.4 L247.9,187.4 L248.6,190.5 L249.3,193.7 L249.9,196.8 L250.6,199.9 L251.2,203.0 L251.8,206.1 L252.4,209.2 L252.9,212.3 L253.5,215.4 L254.0,218.6 L254.6,221.7 L255.1,224.8 L255.6,228.0 L256.1,231.1 L256.6,234.2 L257.1,237.4 L257.6,240.5 L258.0,243.6 L258.5,246.8 L258.9,249.9 L259.3,253.1 L259.8,256.2 L260.2,259.4 L260.6,262.5 L261.0,265.7 L261.4,268.8 L261.7,272.0 L262.1,275.2 L262.5,278.3 L262.9,281.5 L263.2,284.6 L263.6,287.8 L263.9,291.0 L264.3,294.1 L264.6,297.3 L265.0,300.4 L265.3,303.6 L265.6,306.8 L266.0,309.9 L266.3,313.1 L266.6,316.3 L267.0,319.4 L267.3,322.6 L267.6,325.8 L267.9,328.9 L268.3,332.1 L268.6,335.3 L268.9,338.5 L269.3,341.6 L269.6,344.8 L269.9,348.0 L270.2,351.1 L270.6,354.3 L270.9,357.5 L271.3,360.6 L271.6,363.8 L272.0,366.9 L272.3,370.1 L272.7,373.3 L273.0,376.4 L273.4,379.6 L273.8,382.8 L274.2,385.9 L274.6,389.1 L275.0,392.2 L275.4,395.4 L275.8,398.5 L276.2,401.7 L276.6,404.8 L277.1,408.0 L277.5,411.1 L278.0,414.3 L278.4,417.4 L278.9,420.6 L279.4,423.7 L279.9,426.9 L280.4,430.0 L280.9,433.1 L281.4,436.3 L282.0,439.4 L282.5,442.5 L283.1,445.6 L283.7,448.8 L284.3,451.9 L284.9,455.0 L285.5,458.1 L286.2,461.2 L286.8,464.3 L287.5,467.4 L288.2,470.6 L288.9,473.7 L289.6,476.7 L290.3,479.8 L291.1,482.9 L291.8,486.0 L292.6,489.1 L293.4,492.2 L294.2,495.3 L295.1,498.3 L295.9,501.4 L296.8,504.4 L297.6,507.5 L298.5,510.5 L299.5,513.6 L300.4,516.6 L301.3,519.7 L302.3,522.7 L303.3,525.7 L304.3,528.7 L305.3,531.7 L306.3,534.7 L307.4,537.7 L308.4,540.7 L309.5,543.7 L310.6,546.6 L311.7,549.6 L312.9,552.6 L314.0,555.5 L315.2,558.5 L316.4,561.4 L317.6,564.3 L318.9,567.2 L320.1,570.1 L321.4,573.0 L322.7,575.9 L324.0,578.8 L325.3,581.7 L326.6,584.5 L328.0,587.4 L329.4,590.2 L330.8,593.0 L332.2,595.9 L333.7,598.7 L335.1,601.5 L336.6,604.3 L338.1,607.0 L339.6,609.8 L341.2,612.5 L342.7,615.3 L344.3,618.0 L345.9,620.7 L347.5,623.4 L349.2,626.1 L350.8,628.8 L352.5,631.5 L354.2,634.1 L356.0,636.8 L357.7,639.4 L359.5,642.0 L361.3,644.7 L363.0,647.3 L364.9,649.9 L366.7,652.4 L368.5,655.0 L370.4,657.6 L372.3,660.1 L374.1,662.7 L376.0,665.2 L378.0,667.8 L379.9,670.3 L381.8,672.8 L383.7,675.4 L385.7,677.9 L387.6,680.4 L389.6,682.9 L391.6,685.4 L393.5,687.9 L395.5,690.4 L397.5,692.9 L399.5,695.4 L401.5,697.9 L403.4,700.4 L405.4,702.9 L407.4,705.4 L409.4,707.9 L411.4,710.4 L413.4,713.0 L415.4,715.5 L417.4,718.0 L419.4,720.5 L421.3,723.0 L423.3,725.5 L425.3,728.1 L427.2,730.6 L429.2,733.1 L431.1,735.7 L433.1,738.2 L435.0,740.8 L436.9,743.3 L438.8,745.9 L440.7,748.5 L442.6,751.1 L444.5,753.7 L446.4,756.3 L448.2,758.9 L450.1,761.5 L451.9,764.2 L453.7,766.8 L455.5,769.5 L457.3,772.1 L459.1,774.8 L460.8,777.4 L462.6,780.1 L464.3,782.8 L466.0,785.5 L467.7,788.2 L469.4,790.9 L471.1,793.6 L472.8,796.4 L474.4,799.1 L476.1,801.8 L477.7,804.6 L479.3,807.3 L480.9,810.1 L482.5,812.8 L484.1,815.6 L485.6,818.4 L487.2,821.1 L488.7,823.9 L490.2,826.7 L491.7,829.5 L493.2,832.3 L494.7,835.1 L496.1,837.9 L497.6,840.7 L499.0,843.5 L500.4,846.3 L501.8,849.2 L503.2,852.0 L504.5,854.8 L505.9,857.6 L507.2,860.5 L508.5,863.3 L509.8,866.2 L511.0,869.0 L512.3,871.9 L513.5,874.8 L514.6,877.7 L515.8,880.6 L516.9,883.5 L518.0,886.4 L519.0,889.3 L520.0,892.3 L521.0,895.3 L521.9,898.2 L522.8,901.2 L523.6,904.2 L524.4,907.3 L525.2,910.3 L525.9,913.4 L526.5,916.5 L527.1,919.6 L527.7,922.7 L528.2,925.8 L528.6,929.0 L529.0,932.2 L529.4,935.3 L529.7,938.5 L530.0,941.8 L530.3,945.0 L530.6,948.2 L530.8,951.5 L531.0,954.7 L531.3,958.0 L531.5,961.2 L531.7,964.5 L531.9,967.7 L532.1,971.0 L532.3,974.2 L532.5,977.5 L532.8,980.7 L533.0,984.0 L533.3,987.2 L533.6,990.4 L534.0,993.6 L534.4,996.8 L534.8,1000.0 L535.3,1003.1 L535.8,1006.2 L536.3,1009.4 L536.9,1012.5 L537.6,1015.5 L538.4,1018.6 L539.2,1021.6 L540.0,1024.6 L541.0,1027.6 L542.0,1030.5 L543.1,1033.4 L544.3,1036.3 L545.5,1039.2 L546.8,1042.0 L548.2,1044.7 L549.7,1047.4 L551.3,1050.1 L552.9,1052.7 L554.6,1055.3 L556.4,1057.8 L558.2,1060.3 L560.2,1062.7 L562.2,1065.0 L564.2,1067.3 L566.4,1069.6 L568.6,1071.7 L570.9,1073.8 L573.2,1075.9 L575.6,1077.9 L578.1,1079.8 L580.6,1081.7 L583.2,1083.5 L585.8,1085.3 L588.4,1087.0 L591.1,1088.7 L593.9,1090.4 L596.7,1092.0 L599.5,1093.6 L602.3,1095.1 L605.1,1096.6 L608.0,1098.1 L610.9,1099.6 L613.8,1101.0 L616.7,1102.4 L619.7,1103.7 L622.6,1105.1 L625.6,1106.4 L628.5,1107.7 L631.5,1109.0 L634.4,1110.2 L637.4,1111.5 L640.3,1112.7 L643.3,1113.9 L646.3,1115.1 L649.3,1116.3 L652.2,1117.5 L655.2,1118.6 L658.2,1119.7 L661.2,1120.8 L664.2,1121.9 L667.2,1123.0 L670.2,1124.1 L673.2,1125.2 L676.2,1126.2 L679.2,1127.3 L682.2,1128.3 L685.2,1129.3 L688.2,1130.3 L691.2,1131.4 L694.2,1132.3 L697.2,1133.3 L700.2,1134.3 L703.3,1135.3 L706.3,1136.3 L709.3,1137.2 L712.3,1138.2 L715.3,1139.2 L718.4,1140.1 L721.4,1141.1 L724.4,1142.0 L727.4,1143.0 L730.4,1143.9 L733.5,1144.8 L736.5,1145.8 L739.5,1146.7 L742.5,1147.7 L745.6,1148.6 L748.6,1149.6 L751.6,1150.5 L754.6,1151.5 L757.6,1152.4 L760.7,1153.4 L763.7,1154.4 L766.7,1155.3 L769.7,1156.3 L772.7,1157.3 L775.7,1158.3 L778.7,1159.3 L781.8,1160.3 L784.8,1161.3 L787.8,1162.4 L790.8,1163.4 L793.8,1164.4 L796.8,1165.5 L799.8,1166.6" stroke="#ff0000" stroke-width="19"/>
</g>
<rect x="192.5" y="144.4" width="960.0" height="1007.9" fill="none" stroke="#000" stroke-width="5.5"/>
<path d="M177.5,144.4H192.5M177.5,270.4H192.5M177.5,396.4H192.5M177.5,522.4H192.5M177.5,648.4H192.5M177.5,774.4H192.5M177.5,900.4H192.5M177.5,1026.4H192.5M177.5,1152.4H192.5" stroke="#000" stroke-width="5.5" fill="none"/>
<path d="M183.6,182.3H192.5M183.6,204.5H192.5M183.6,220.3H192.5M183.6,232.5H192.5M183.6,242.4H192.5M183.6,250.9H192.5M183.6,258.2H192.5M183.6,264.6H192.5M183.6,308.3H192.5M183.6,330.5H192.5M183.6,346.3H192.5M183.6,358.5H192.5M183.6,368.4H192.5M183.6,376.9H192.5M183.6,384.2H192.5M183.6,390.6H192.5M183.6,434.3H192.5M183.6,456.5H192.5M183.6,472.3H192.5M183.6,484.5H192.5M183.6,494.4H192.5M183.6,502.9H192.5M183.6,510.2H192.5M183.6,516.6H192.5M183.6,560.3H192.5M183.6,582.5H192.5M183.6,598.3H192.5M183.6,610.5H192.5M183.6,620.4H192.5M183.6,628.9H192.5M183.6,636.2H192.5M183.6,642.6H192.5M183.6,686.3H192.5M183.6,708.5H192.5M183.6,724.3H192.5M183.6,736.5H192.5M183.6,746.4H192.5M183.6,754.9H192.5M183.6,762.2H192.5M183.6,768.6H192.5M183.6,812.3H192.5M183.6,834.5H192.5M183.6,850.3H192.5M183.6,862.5H192.5M183.6,872.4H192.5M183.6,880.9H192.5M183.6,888.2H192.5M183.6,894.6H192.5M183.6,938.3H192.5M183.6,960.5H192.5M183.6,976.3H192.5M183.6,988.5H192.5M183.6,998.4H192.5M183.6,1006.9H192.5M183.6,1014.2H192.5M183.6,1020.6H192.5M183.6,1064.3H192.5M183.6,1086.5H192.5M183.6,1102.3H192.5M183.6,1114.5H192.5M183.6,1124.4H192.5M183.6,1132.9H192.5M183.6,1140.2H192.5M183.6,1146.6H192.5" stroke="#000" stroke-width="2.9" fill="none"/>
<path d="M192.5,1152.3V1167M312.5,1152.3V1167M432.5,1152.3V1167M552.5,1152.3V1167M672.5,1152.3V1167M792.5,1152.3V1167M912.5,1152.3V1167M1032.5,1152.3V1167" stroke="#000" stroke-width="5.5" fill="none"/>
<path d="M319.5,144.4V129.5M473.6,144.4V129.5M627.7,144.4V129.5M781.8,144.4V129.5M935.9,144.4V129.5M1090.0,144.4V129.5" stroke="#000" stroke-width="5.5" fill="none"/>
<path d="M515,0L515,1237L197,1010L197,1180L530,1409L696,1409L696,0Z" transform="translate(274.04,107.60) scale(0.02009,-0.02148)" fill="#e60000" stroke="#e60000" stroke-width="60.5"/><text transform="translate(296.92,107.60) scale(0.935,1)" font-size="44" fill="#e60000" stroke="#e60000" stroke-width="1.3">000</text>
<path d="M515,0L515,1237L197,1010L197,1180L530,1409L696,1409L696,0Z" transform="translate(428.14,107.60) scale(0.02009,-0.02148)" fill="#e60000" stroke="#e60000" stroke-width="60.5"/><text transform="translate(451.02,107.60) scale(0.935,1)" font-size="44" fill="#e60000" stroke="#e60000" stroke-width="1.3">500</text>
<text transform="translate(582.24,107.60) scale(0.935,1)" font-size="44" fill="#e60000" stroke="#e60000" stroke-width="1.3">2000</text>
<text transform="translate(736.34,107.60) scale(0.935,1)" font-size="44" fill="#e60000" stroke="#e60000" stroke-width="1.3">2500</text>
<text transform="translate(890.44,107.60) scale(0.935,1)" font-size="44" fill="#e60000" stroke="#e60000" stroke-width="1.3">3000</text>
<text transform="translate(1044.54,107.60) scale(0.935,1)" font-size="44" fill="#e60000" stroke="#e60000" stroke-width="1.3">3500</text>
<text x="441.8" y="60.5" font-size="67.1" fill="#e60000" stroke="#e60000" stroke-width="1.8">temperature [K]</text>
<path d="M515,0L515,1237L197,1010L197,1180L530,1409L696,1409L696,0Z" transform="translate(80.00,166.10) scale(0.02026,-0.02100)" fill="#000" stroke="#000" stroke-width="61.9"/><text transform="translate(103.08,166.10) scale(0.965,1)" font-size="43" fill="#000" stroke="#000" stroke-width="1.3">0</text>
<text transform="translate(128.50,137.10) scale(1.0,1)" font-size="29" fill="#000" stroke="#000" stroke-width="1.3">−6</text>
<path d="M515,0L515,1237L197,1010L197,1180L530,1409L696,1409L696,0Z" transform="translate(80.00,292.10) scale(0.02026,-0.02100)" fill="#000" stroke="#000" stroke-width="61.9"/><text transform="translate(103.08,292.10) scale(0.965,1)" font-size="43" fill="#000" stroke="#000" stroke-width="1.3">0</text>
<text transform="translate(128.50,263.10) scale(1.0,1)" font-size="29" fill="#000" stroke="#000" stroke-width="1.3">−5</text>
<path d="M515,0L515,1237L197,1010L197,1180L530,1409L696,1409L696,0Z" transform="translate(80.00,418.10) scale(0.02026,-0.02100)" fill="#000" stroke="#000" stroke-width="61.9"/><text transform="translate(103.08,418.10) scale(0.965,1)" font-size="43" fill="#000" stroke="#000" stroke-width="1.3">0</text>
<text transform="translate(128.50,389.10) scale(1.0,1)" font-size="29" fill="#000" stroke="#000" stroke-width="1.3">−4</text>
<path d="M515,0L515,1237L197,1010L197,1180L530,1409L696,1409L696,0Z" transform="translate(80.00,544.10) scale(0.02026,-0.02100)" fill="#000" stroke="#000" stroke-width="61.9"/><text transform="translate(103.08,544.10) scale(0.965,1)" font-size="43" fill="#000" stroke="#000" stroke-width="1.3">0</text>
<text transform="translate(128.50,515.10) scale(1.0,1)" font-size="29" fill="#000" stroke="#000" stroke-width="1.3">−3</text>
<path d="M515,0L515,1237L197,1010L197,1180L530,1409L696,1409L696,0Z" transform="translate(80.00,670.10) scale(0.02026,-0.02100)" fill="#000" stroke="#000" stroke-width="61.9"/><text transform="translate(103.08,670.10) scale(0.965,1)" font-size="43" fill="#000" stroke="#000" stroke-width="1.3">0</text>
<text transform="translate(128.50,641.10) scale(1.0,1)" font-size="29" fill="#000" stroke="#000" stroke-width="1.3">−2</text>
<path d="M515,0L515,1237L197,1010L197,1180L530,1409L696,1409L696,0Z" transform="translate(80.00,796.10) scale(0.02026,-0.02100)" fill="#000" stroke="#000" stroke-width="61.9"/><text transform="translate(103.08,796.10) scale(0.965,1)" font-size="43" fill="#000" stroke="#000" stroke-width="1.3">0</text>
<text transform="translate(128.50,767.10) scale(1.0,1)" font-size="29" fill="#000" stroke="#000" stroke-width="1.3">−</text><path d="M515,0L515,1237L197,1010L197,1180L530,1409L696,1409L696,0Z" transform="translate(145.44,767.10) scale(0.01416,-0.01416)" fill="#000" stroke="#000" stroke-width="91.8"/>
<path d="M515,0L515,1237L197,1010L197,1180L530,1409L696,1409L696,0Z" transform="translate(98.60,922.10) scale(0.02026,-0.02100)" fill="#000" stroke="#000" stroke-width="61.9"/><text transform="translate(121.68,922.10) scale(0.965,1)" font-size="43" fill="#000" stroke="#000" stroke-width="1.3">0</text>
<text transform="translate(144.20,893.10) scale(1.0,1)" font-size="29" fill="#000" stroke="#000" stroke-width="1.3">0</text>
<path d="M515,0L515,1237L197,1010L197,1180L530,1409L696,1409L696,0Z" transform="translate(98.60,1048.10) scale(0.02026,-0.02100)" fill="#000" stroke="#000" stroke-width="61.9"/><text transform="translate(121.68,1048.10) scale(0.965,1)" font-size="43" fill="#000" stroke="#000" stroke-width="1.3">0</text>
<path d="M515,0L515,1237L197,1010L197,1180L530,1409L696,1409L696,0Z" transform="translate(144.20,1019.10) scale(0.01416,-0.01416)" fill="#000" stroke="#000" stroke-width="91.8"/>
<path d="M515,0L515,1237L197,1010L197,1180L530,1409L696,1409L696,0Z" transform="translate(98.60,1174.10) scale(0.02026,-0.02100)" fill="#000" stroke="#000" stroke-width="61.9"/><text transform="translate(121.68,1174.10) scale(0.965,1)" font-size="43" fill="#000" stroke="#000" stroke-width="1.3">0</text>
<text transform="translate(144.20,1145.10) scale(1.0,1)" font-size="29" fill="#000" stroke="#000" stroke-width="1.3">2</text>
<path d="M515,0L515,1237L197,1010L197,1180L530,1409L696,1409L696,0Z" transform="translate(151.90,1227.50) scale(0.02026,-0.02100)" fill="#000" stroke="#000" stroke-width="61.9"/><text transform="translate(174.98,1227.50) scale(0.965,1)" font-size="43" fill="#000" stroke="#000" stroke-width="1.3">0</text>
<text transform="translate(198.10,1199.00) scale(1.0,1)" font-size="29" fill="#000" stroke="#000" stroke-width="1.3">−9</text>
<path d="M515,0L515,1237L197,1010L197,1180L530,1409L696,1409L696,0Z" transform="translate(271.90,1227.50) scale(0.02026,-0.02100)" fill="#000" stroke="#000" stroke-width="61.9"/><text transform="translate(294.98,1227.50) scale(0.965,1)" font-size="43" fill="#000" stroke="#000" stroke-width="1.3">0</text>
<text transform="translate(318.10,1199.00) scale(1.0,1)" font-size="29" fill="#000" stroke="#000" stroke-width="1.3">−8</text>
<path d="M515,0L515,1237L197,1010L197,1180L530,1409L696,1409L696,0Z" transform="translate(391.90,1227.50) scale(0.02026,-0.02100)" fill="#000" stroke="#000" stroke-width="61.9"/><text transform="translate(414.98,1227.50) scale(0.965,1)" font-size="43" fill="#000" stroke="#000" stroke-width="1.3">0</text>
<text transform="translate(438.10,1199.00) scale(1.0,1)" font-size="29" fill="#000" stroke="#000" stroke-width="1.3">−7</text>
<path d="M515,0L515,1237L197,1010L197,1180L530,1409L696,1409L696,0Z" transform="translate(511.90,1227.50) scale(0.02026,-0.02100)" fill="#000" stroke="#000" stroke-width="61.9"/><text transform="translate(534.98,1227.50) scale(0.965,1)" font-size="43" fill="#000" stroke="#000" stroke-width="1.3">0</text>
<text transform="translate(558.10,1199.00) scale(1.0,1)" font-size="29" fill="#000" stroke="#000" stroke-width="1.3">−6</text>
<path d="M515,0L515,1237L197,1010L197,1180L530,1409L696,1409L696,0Z" transform="translate(631.90,1227.50) scale(0.02026,-0.02100)" fill="#000" stroke="#000" stroke-width="61.9"/><text transform="translate(654.98,1227.50) scale(0.965,1)" font-size="43" fill="#000" stroke="#000" stroke-width="1.3">0</text>
<text transform="translate(678.10,1199.00) scale(1.0,1)" font-size="29" fill="#000" stroke="#000" stroke-width="1.3">−5</text>
<path d="M515,0L515,1237L197,1010L197,1180L530,1409L696,1409L696,0Z" transform="translate(751.90,1227.50) scale(0.02026,-0.02100)" fill="#000" stroke="#000" stroke-width="61.9"/><text transform="translate(774.98,1227.50) scale(0.965,1)" font-size="43" fill="#000" stroke="#000" stroke-width="1.3">0</text>
<text transform="translate(798.10,1199.00) scale(1.0,1)" font-size="29" fill="#000" stroke="#000" stroke-width="1.3">−4</text>
<path d="M515,0L515,1237L197,1010L197,1180L530,1409L696,1409L696,0Z" transform="translate(871.90,1227.50) scale(0.02026,-0.02100)" fill="#000" stroke="#000" stroke-width="61.9"/><text transform="translate(894.98,1227.50) scale(0.965,1)" font-size="43" fill="#000" stroke="#000" stroke-width="1.3">0</text>
<text transform="translate(918.10,1199.00) scale(1.0,1)" font-size="29" fill="#000" stroke="#000" stroke-width="1.3">−3</text>
<path d="M515,0L515,1237L197,1010L197,1180L530,1409L696,1409L696,0Z" transform="translate(991.90,1227.50) scale(0.02026,-0.02100)" fill="#000" stroke="#000" stroke-width="61.9"/><text transform="translate(1014.98,1227.50) scale(0.965,1)" font-size="43" fill="#000" stroke="#000" stroke-width="1.3">0</text>
<text transform="translate(1038.10,1199.00) scale(1.0,1)" font-size="29" fill="#000" stroke="#000" stroke-width="1.3">−2</text>
<text x="320.6" y="1303.2" font-size="66.9" stroke="#000" stroke-width="1.8">gas volume mixing ratio</text>
<text transform="translate(49.7,855.5) rotate(-90)" font-size="67" stroke="#000" stroke-width="1.8">pressure [bar]</text>
<path d="M221.2,196.9H323" stroke="#ff0000" stroke-width="17.7"/>
<text x="347" y="212" font-size="42" stroke="#000" stroke-width="1.3">TP</text>
<path d="M228.6,845.8H305" stroke="#0a0a94" stroke-width="10" stroke-dasharray="32 12.15"/>
<text x="346" y="856.1" font-size="41.5" stroke="#000" stroke-width="1.3">H<tspan dy="8" font-size="30">2</tspan><tspan dy="-8" dx="2.5">O</tspan></text>
<path d="M228.6,908H305" stroke="#a9d6e5" stroke-width="9.2" stroke-dasharray="32 12.15"/>
<text x="346" y="918.3" font-size="41.5" stroke="#000" stroke-width="1.3">CH<tspan dy="8" font-size="30">4</tspan></text>
<path d="M228.6,967H305" stroke="#ff0000" stroke-width="10" stroke-dasharray="32 12.15"/>
<text x="346" y="977.3" font-size="41.5" stroke="#000" stroke-width="1.3">CO</text>
<path d="M228.6,1029.3H305" stroke="#000000" stroke-width="10" stroke-dasharray="32 12.15"/>
<text x="346" y="1039.6" font-size="41.5" stroke="#000" stroke-width="1.3">CO<tspan dy="8" font-size="30">2</tspan></text>
<path d="M228.6,1092H305" stroke="#fba500" stroke-width="10" stroke-dasharray="32 12.15"/>
<text x="346" y="1102.3" font-size="41.5" stroke="#000" stroke-width="1.3">H<tspan dy="8" font-size="30">2</tspan><tspan dy="-8" dx="2.5">S</tspan></text>
</svg></body></html>
